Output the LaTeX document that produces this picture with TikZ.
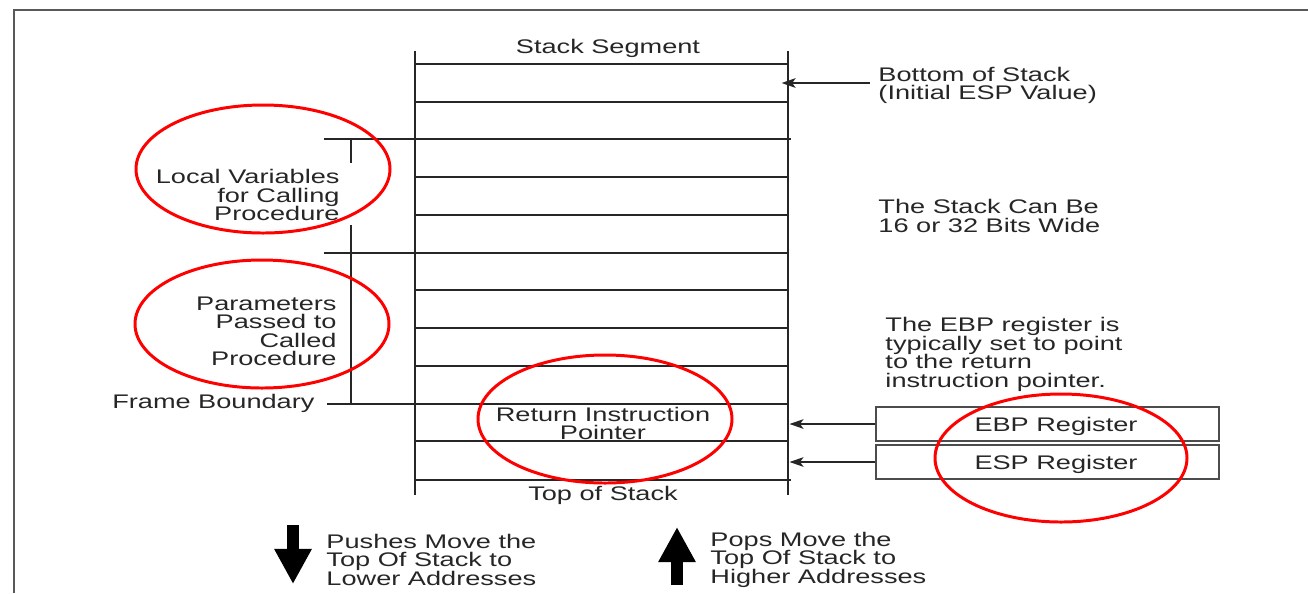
\documentclass[tikz,border=0pt]{standalone}
\usepackage{fontspec}
\setmainfont{Liberation Sans}
\usetikzlibrary{arrows.meta}

\tikzset{
  txt/.style={font=\fontsize{11.2pt}{10.6pt}\selectfont, text=black!85,
    inner sep=0pt, xscale=1.38, transform shape, yshift=-1.3pt},
  cell/.style={line width=0.75pt, draw=black!85},
  ptr/.style={cell, -{Stealth[length=8pt,width=5.5pt,inset=2pt]}},
  regbox/.style={draw=black!70, line width=0.9pt, minimum width=195.5pt,
    minimum height=19.3pt, inner sep=0pt},
  redring/.style={draw=red, line width=1.7pt},
  bigarrow/.style={line width=7pt, -{Triangle[length=20pt,width=20pt]}}
}

\begin{document}
\begin{tikzpicture}[x=0.02cm, y=-0.02cm]
\useasboundingbox (0,0) rectangle (1308,593);
% frame
\draw[black!65, line width=1.1pt] (14,593) -- (14,10) -- (1308,10);

% stack segment
\coordinate (stackR) at (789.5,0);
\draw[cell] (415,51) -- (415,495);
\draw[cell] (788,51) -- (788,495);
\foreach \y in {64,102,177,215,290,328,366,441}
  \draw[cell] (415,\y) -- (788,\y);
\draw[cell] (324,139) -- (791,139);
\draw[cell] (324,253) -- (788,253);
\draw[cell] (327,404) -- (788,404);
\draw[cell] (415,480) -- (791,480);
% brackets
\draw[cell] (351,140) -- (351,163);
\draw[cell] (351,225) -- (351,404);

\node[txt] (segment) at (608,46) {Stack Segment};
\node[txt] (tos) at (603,493) {Top of Stack};
\node[txt, align=center, font=\fontsize{11.2pt}{10.2pt}\selectfont] (retip) at (603,421) {Return Instruction\\Pointer};

% left labels
\node[txt, anchor=east, align=right] (locals) at (340,193) {Local Variables\\for Calling\\Procedure};
\node[txt, anchor=east, align=right] (params) at (337,329) {Parameters\\Passed to\\Called\\Procedure};
\node[txt, anchor=east] (frame) at (315,401) {Frame Boundary};

% right labels
\node[txt, anchor=west, align=left] (bottom) at (878,83) {Bottom of Stack\\(Initial ESP Value)};
\draw[ptr] ([xshift=-4.5pt,yshift=1.3pt]bottom.west) -- ([xshift=-4.5pt,yshift=1.3pt]bottom.west -| stackR);
\node[txt, anchor=west, align=left] (width) at (878,213.5) {The Stack Can Be\\16 or 32 Bits Wide};
\node[txt, anchor=west, align=left] (note) at (885,352) {The EBP register is\\typically set to point\\to the return\\instruction pointer.};

% registers
\node[regbox] (ebp) at (1047.5,424) {};
\node[regbox] (esp) at (1047.5,462) {};
\node[txt] (ebptxt) at (1056,424) {EBP Register};
\node[txt] (esptxt) at (1056,462) {ESP Register};
\draw[ptr] (ebp.west) -- (ebp.west -| stackR);
\draw[ptr] (esp.west) -- (esp.west -| stackR);

% push / pop
\coordinate (pushA) at (293,525);
\coordinate (pushB) at (293,584);
\draw[bigarrow] (pushA) -- (pushB);
\node[txt, anchor=west, align=left] (pushes) at (326,557.5) {Pushes Move the\\Top Of Stack to\\Lower Addresses};
\coordinate (popA) at (677,585);
\coordinate (popB) at (677,527);
\draw[bigarrow] (popA) -- (popB);
\node[txt, anchor=west, align=left] (pops) at (710,557.5) {Pops Move the\\Top Of Stack to\\Higher Addresses};

% red rings
\draw[redring] (263,169) ellipse [x radius=127, y radius=64];
\draw[redring] (262,324) ellipse [x radius=127, y radius=64];
\draw[redring] (605,419) ellipse [x radius=127, y radius=64];
\draw[redring] (1061,458) ellipse [x radius=126, y radius=64];
\end{tikzpicture}
\end{document}
